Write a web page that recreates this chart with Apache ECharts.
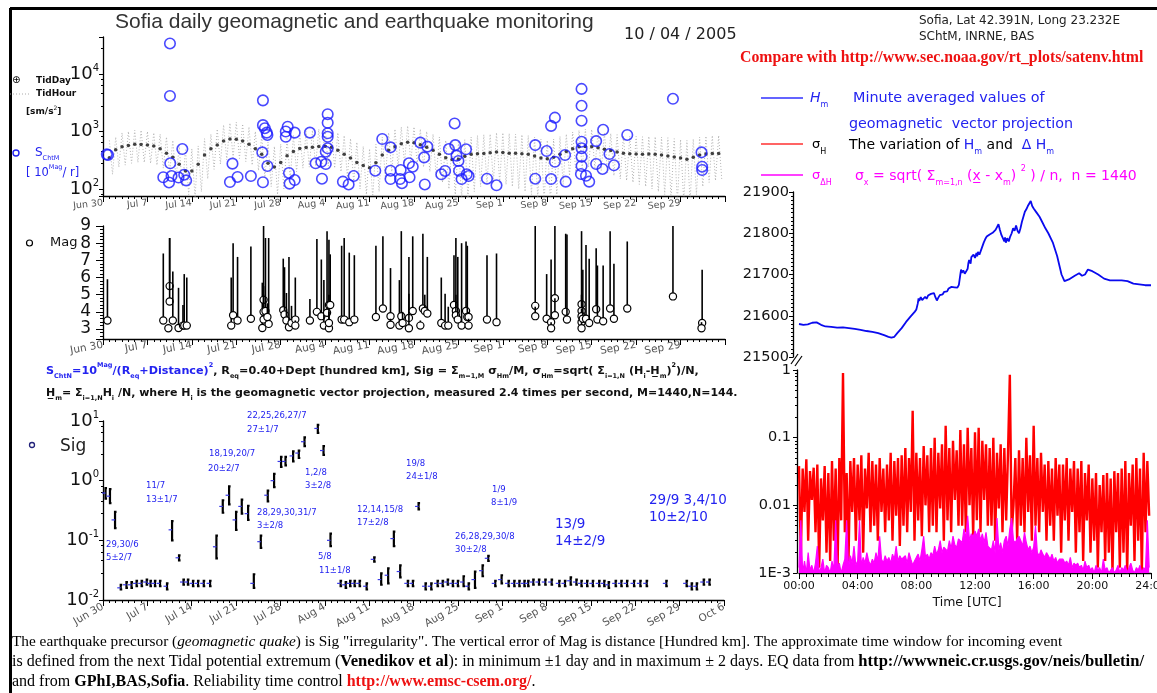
<!DOCTYPE html>
<html><head><meta charset="utf-8">
<script src="https://cdn.jsdelivr.net/npm/echarts@6/dist/echarts.min.js"></script>
<style>html,body{margin:0;padding:0;background:#fff}#c{width:1157px;height:693px}</style>
</head><body><div id="c"></div>
<script>
// ---------- tick labels ----------
const dateLabels = ['Jun 30','Jul 7','Jul 14','Jul 21','Jul 28','Aug 4','Aug 11','Aug 18','Aug 25','Sep 1','Sep 8','Sep 15','Sep 22','Sep 29','Oct 6'];
const timeLabels = ['00:00','04:00','08:00','12:00','16:00','20:00','24:00'];
const sigmaTickLabels = ['1E-3','0.01','0.1','1'];

// ---------- tidal panel (days since Jun 30) ----------
const tdDayVal = [350,480,540,570,600,595,585,560,500,420,
 355,270,205,205,270,390,500,580,680,740,
 730,680,600,500,400,280,240,290,380,450,
 505,525,530,550,555,530,470,400,345,290,
 255,235,285,390,470,540,610,650,640,590,
 530,470,400,350,325,330,370,400,410,415,
 425,440,430,420,420,410,400,375,345,335,
 355,400,450,500,540,550,545,520,490,465,
 440,420,410,405,400,405,400,390,375,360,
 345,330,355,390,405,415,415];
const tdHourHi = [700,800,950,1000,1050,1050,1000,950,900,800,
 700,550,480,500,560,750,900,1100,1300,1400,
 1450,1350,1200,1000,850,650,550,600,750,850,
 950,1000,1050,1100,1100,1050,950,850,750,650,
 550,500,600,800,950,1100,1200,1250,1200,1100,
 1000,900,800,700,650,650,720,800,850,880,
 900,950,950,920,900,880,850,800,740,700,
 740,820,900,980,1050,1100,1080,1020,960,920,
 880,850,830,820,810,820,810,800,780,750,
 720,700,740,800,830,850,850];
const tdHourLo = [180,240,260,280,290,290,280,260,230,190,
 150,110,80,70,90,150,220,270,320,350,
 340,300,260,210,160,110,80,100,150,200,
 230,240,250,250,250,230,200,160,130,100,
 80,70,90,150,200,240,280,290,270,240,
 200,160,130,100,80,70,70,90,110,120,
 130,130,120,110,100,90,80,70,60,60,
 80,120,170,200,230,240,230,210,190,170,
 150,140,130,120,110,100,90,80,70,60,
 60,60,80,110,130,140,140];
const sDay = [0.6,0.8,10.55,10.55,10.6,9.5,10.4,10.8,11.9,12.5,
 12.8,13.1,20.4,20.0,21.2,23.3,25.2,25.2,25.5,25.8,
 25.9,25.1,25.2,25.9,29.1,28.8,28.8,29.3,29.4,30.2,
 30.2,32.6,33.5,34.4,34.5,35.1,35.1,35.4,35.4,35.4,
 35.4,35.4,37.8,38.7,39.5,42.9,44.0,45.3,45.3,45.3,
 46.8,46.9,47.1,48.2,48.8,48.3,50.0,51.1,50.6,50.7,
 53.3,53.9,54.5,55.4,55.5,55.7,56.0,56.1,56.5,57.2,
 57.3,57.6,60.5,62.0,68.1,68.1,69.9,70.6,71.2,71.2,
 70.6,72.9,72.8,75.4,75.4,75.4,75.4,75.4,75.4,75.4,
 75.3,76.1,76.6,77.7,78.8,77.7,78.7,79.8,80.5,82.6,
 89.8,94.3,94.4,94.4];
const sVal = [400,390,34000,4150,280,160,130,168,158,495,
 177,141,276,132,162,168,3480,1290,1140,955,
 870,434,131,251,1210,810,1000,190,124,955,
 143,955,280,297,151,272,445,2000,1420,930,
 810,510,134,120,168,208,740,530,208,149,
 149,214,126,280,244,160,640,545,355,120,
 180,206,495,1380,580,380,307,208,149,490,
 180,168,151,116,580,151,457,1250,1740,297,
 149,134,390,5500,2800,1540,665,510,365,251,
 182,170,134,680,1070,272,223,405,258,870,
 3700,434,244,214];

// ---------- magnitude panel ----------
const magDay = [0.7,9.5,10.5,10.5,10.3,11.0,11.9,12.6,12.8,13.2,
 20.2,20.5,21.2,23.3,25.1,25.3,25.3,25.3,25.6,26.1,
 25.9,28.4,28.6,28.9,29.3,29.7,30.3,30.3,32.6,33.7,
 34.4,34.8,35.3,35.6,35.6,35.6,35.8,37.6,38.0,38.8,
 39.6,43.0,44.1,45.3,45.3,46.7,47.0,47.2,48.2,48.2,
 48.8,50.0,50.4,50.7,51.1,53.3,53.9,54.4,55.3,55.6,
 55.6,55.9,56.5,57.2,57.4,57.6,57.6,60.5,62.0,68.1,
 68.1,69.9,70.6,70.6,71.2,71.2,72.9,73.1,75.4,75.4,
 75.4,75.4,75.4,75.6,76.1,76.6,77.7,77.9,78.8,79.9,
 80.5,82.6,89.8,94.4,94.3];
const magVal = [3.5,3.5,5.5,4.6,3.05,3.5,3.06,3.2,3.2,3.2,
 3.2,3.8,3.5,3.6,3.06,4.7,4.0,3.55,4.05,3.3,
 3.7,4.1,3.85,3.5,3.1,3.35,3.55,3.2,3.5,4.0,
 3.75,3.2,3.95,4.4,3.05,3.35,4.4,3.55,3.55,3.4,
 3.55,3.7,4.2,3.75,3.25,3.2,3.75,3.35,3.65,3.05,
 4.05,3.2,4.2,4.05,3.9,3.35,3.2,3.2,4.4,4.05,
 3.8,3.55,3.2,4.05,3.7,3.7,3.2,3.55,3.4,4.35,
 3.75,3.6,3.4,3.05,4.8,3.8,4.0,3.55,4.45,4.05,
 3.75,3.4,3.05,3.6,3.6,3.35,4.15,3.55,3.45,4.2,
 3.6,4.2,4.9,3.35,3.05];
const magTop = [5.9,7.4,8.3,8.3,3.3,6.35,5.4,4.4,6.2,6.0,
 6.0,8.0,7.2,7.8,5.7,9.0,5.5,5.0,8.3,8.3,
 4.5,7.1,6.6,5.1,7.2,4.35,6.0,3.5,4.75,8.25,
 7.05,5.85,8.7,8.2,4.0,5.0,7.35,7.85,8.3,7.45,
 7.3,7.85,8.4,6.55,3.6,5.85,8.7,4.0,7.2,5.05,
 8.4,3.5,8.55,5.0,7.2,6.0,5.05,4.3,7.3,8.3,
 5.0,7.2,8.0,8.1,7.85,4.0,3.6,7.3,7.4,9.0,
 4.3,6.2,7.05,3.4,9.0,4.8,8.55,8.5,8.7,5.0,
 4.2,3.8,3.5,6.45,7.9,7.1,7.7,6.7,6.7,8.7,
 6.8,8.1,9.0,6.45,3.4];

// ---------- Sig panel ----------
const sigDay = [0.4,1.1,1.9,2.8,3.7,4.5,5.3,6.1,6.9,7.5,
 8.2,9.0,10.1,10.9,12.0,12.7,13.4,14.2,15.0,15.9,
 16.9,17.9,18.9,19.9,21.0,21.9,22.9,23.8,24.9,26.0,
 27.0,28.1,28.8,30.0,30.9,31.8,33.9,34.8,35.9,37.5,
 38.3,39.0,39.7,40.5,41.6,42.8,43.9,45.0,45.9,46.9,
 48.1,48.9,49.8,50.9,51.8,52.8,53.6,54.4,55.2,56.0,
 56.9,57.7,58.7,59.9,60.8,61.9,62.9,64.0,64.9,65.7,
 66.5,67.1,67.9,68.8,69.8,70.8,72.0,72.9,73.8,74.7,
 75.5,76.4,77.3,78.3,79.1,79.8,80.9,81.8,82.7,83.8,
 84.8,85.8,88.9,92.1,92.9,93.7,94.8,95.7];
const sigVal = [0.62,0.55,0.22,0.016,0.018,0.018,0.019,0.019,0.020,0.019,
 0.019,0.019,0.017,0.15,0.051,0.020,0.020,0.019,0.019,0.019,
 0.019,0.078,0.37,0.57,0.22,0.37,0.28,0.019,0.095,0.57,
 1.0,2.1,2.1,2.6,2.9,4.5,7.5,3.2,0.10,0.019,
 0.018,0.019,0.019,0.019,0.017,0.048,0.022,0.026,0.107,0.030,
 0.019,0.019,0.37,0.017,0.017,0.019,0.019,0.020,0.019,0.019,
 0.020,0.017,0.022,0.031,0.050,0.019,0.022,0.019,0.019,0.019,
 0.019,0.019,0.020,0.020,0.020,0.020,0.019,0.019,0.021,0.020,
 0.019,0.019,0.019,0.019,0.019,0.018,0.019,0.019,0.019,0.019,
 0.019,0.019,0.019,0.019,0.017,0.017,0.020,0.020];
const sigLo = [0.50,0.42,0.16,0.015,0.016,0.016,0.017,0.017,0.018,0.017,
 0.017,0.017,0.015,0.10,0.046,0.018,0.018,0.017,0.017,0.017,
 0.017,0.050,0.29,0.40,0.15,0.28,0.22,0.016,0.075,0.45,
 0.78,1.7,1.8,2.1,2.4,3.8,6.3,2.7,0.08,0.017,
 0.016,0.017,0.017,0.017,0.015,0.044,0.018,0.019,0.08,0.024,
 0.017,0.017,0.33,0.015,0.015,0.017,0.017,0.018,0.017,0.017,
 0.017,0.015,0.016,0.025,0.045,0.017,0.019,0.017,0.017,0.017,
 0.017,0.017,0.018,0.018,0.018,0.018,0.017,0.017,0.018,0.018,
 0.017,0.017,0.017,0.017,0.017,0.016,0.017,0.017,0.017,0.017,
 0.017,0.017,0.017,0.017,0.015,0.015,0.018,0.018];
const sigHi = [0.75,0.72,0.30,0.018,0.020,0.020,0.021,0.021,0.022,0.021,
 0.021,0.021,0.019,0.21,0.056,0.022,0.022,0.021,0.021,0.021,
 0.021,0.12,0.47,0.80,0.30,0.48,0.38,0.027,0.12,0.68,
 1.3,2.5,2.5,3.1,3.2,5.3,8.6,3.8,0.13,0.021,
 0.020,0.021,0.021,0.021,0.019,0.052,0.028,0.034,0.14,0.038,
 0.021,0.021,0.42,0.019,0.019,0.021,0.021,0.022,0.021,0.021,
 0.025,0.019,0.030,0.038,0.055,0.021,0.026,0.021,0.021,0.021,
 0.021,0.021,0.022,0.022,0.022,0.022,0.021,0.021,0.024,0.022,
 0.021,0.021,0.021,0.021,0.021,0.020,0.021,0.021,0.021,0.021,
 0.021,0.021,0.021,0.021,0.019,0.019,0.022,0.022];

// ---------- H_m (minute averages, hours UTC) ----------
const hmHour = [0,0.3,0.6,0.9,1.2,1.5,1.8,2.2,2.6,3.0,3.4,3.8,4.2,4.6,5.0,5.4,5.8,6.1,6.3,6.5,6.7,7.0,7.3,7.6,7.9,
 8.0,8.1,8.15,8.2,8.3,8.4,8.5,8.6,8.7,8.8,8.9,9.0,9.1,9.2,9.3,9.4,9.5,9.6,9.7,9.8,9.9,
 10.0,10.1,10.2,10.3,10.4,10.5,10.6,10.7,10.8,10.9,11.0,11.05,11.1,11.2,11.3,11.4,11.5,11.55,11.6,11.7,11.75,11.8,11.9,
 12.0,12.1,12.15,12.2,12.3,12.4,12.5,12.6,12.7,12.8,12.9,13.0,13.1,13.2,13.3,13.4,13.5,13.6,13.7,13.8,13.9,
 14.0,14.05,14.1,14.2,14.3,14.4,14.5,14.6,14.7,14.8,14.9,15.0,15.1,15.2,15.3,15.4,15.5,15.6,15.7,15.8,15.9,
 16.0,16.2,16.4,16.6,16.8,17.0,17.3,17.6,17.9,18.1,18.4,18.8,19.1,19.3,19.5,19.7,20.0,20.4,20.8,21.2,21.6,22.0,22.4,22.8,23.2,23.6,24.0];
const hmVal = [21580,21578,21579,21583,21584,21578,21574,21573,21571,21572,21570,21568,21566,21563,21561,21558,21553,21549,21547,21549,21558,21570,21585,21598,21610,
 21615,21630,21642,21636,21645,21638,21642,21646,21641,21649,21646,21653,21650,21655,21645,21637,21644,21650,21654,21652,21658,
 21661,21659,21666,21664,21670,21673,21669,21672,21668,21675,21700,21712,21704,21710,21702,21708,21714,21728,21735,21726,21742,21738,21748,
 21740,21752,21744,21755,21748,21758,21760,21778,21786,21792,21790,21797,21795,21801,21804,21808,21815,21822,21808,21796,21788,
 21780,21790,21777,21788,21780,21792,21800,21812,21806,21819,21806,21800,21812,21828,21840,21852,21858,21866,21872,21878,21866,
 21860,21850,21840,21826,21812,21800,21778,21745,21700,21684,21688,21697,21703,21697,21700,21712,21708,21700,21690,21686,21686,21686,21684,21678,21676,21674,21674];

// ---------- sigma series, one value every 7.5 min ----------
const sigmaStepH = 0.125;
const sigmaH = [
 0.038,0.0018,0.035,0.008,0.048,0.003,0.032,0.012,
 0.036,0.004,0.04,0.0012,0.025,0.006,0.038,0.002,
 0.03,0.0015,0.045,0.003,0.035,0.001,0.05,0.006,
 0.9,0.004,0.03,0.0015,0.045,0.008,0.05,0.003,
 0.04,0.006,0.055,0.002,0.035,0.009,0.06,0.004,
 0.045,0.005,0.04,0.003,0.05,0.008,0.035,0.004,
 0.04,0.006,0.06,0.003,0.045,0.007,0.05,0.0025,
 0.055,0.005,0.07,0.004,0.05,0.008,0.25,0.003,
 0.06,0.006,0.05,0.0035,0.075,0.01,0.055,0.004,
 0.07,0.005,0.1,0.004,0.06,0.009,0.08,0.003,
 0.15,0.006,0.07,0.004,0.09,0.012,0.065,0.005,
 0.13,0.005,0.08,0.004,0.14,0.01,0.07,0.0035,
 0.12,0.006,0.14,0.004,0.09,0.012,0.08,0.005,
 0.07,0.005,0.1,0.003,0.06,0.009,0.08,0.004,
 0.07,0.006,0.06,0.85,0.004,0.01,0.05,0.003,
 0.065,0.005,0.05,0.004,0.1,0.008,0.055,0.003,
 0.15,0.005,0.05,0.004,0.06,0.008,0.04,0.003,
 0.045,0.005,0.035,0.003,0.05,0.007,0.04,0.002,
 0.04,0.006,0.05,0.003,0.035,0.008,0.045,0.002,
 0.035,0.004,0.045,0.0015,0.03,0.006,0.04,0.002,
 0.025,0.003,0.03,0.0012,0.02,0.004,0.028,0.0015,
 0.03,0.002,0.025,0.001,0.032,0.004,0.03,0.0012,
 0.035,0.002,0.045,0.001,0.03,0.005,0.04,0.0015,
 0.05,0.003,0.035,0.001,0.06,0.004,0.045,0.007];
const sigmaDH = [
 0.0012,0.006,0.001,0.0015,0.001,0.002,0.0011,0.0013,
 0.001,0.0014,0.0025,0.001,0.0012,0.0016,0.001,0.0013,
 0.0012,0.001,0.0015,0.0011,0.006,0.0012,0.0014,0.001,
 0.0013,0.0016,0.006,0.0012,0.0018,0.0014,0.0025,0.0013,
 0.0015,0.006,0.0013,0.0017,0.0014,0.002,0.0015,0.0013,
 0.0016,0.0014,0.002,0.0015,0.0035,0.0016,0.0014,0.0018,
 0.0015,0.0017,0.0014,0.0019,0.0016,0.0025,0.0015,0.0018,
 0.0016,0.0015,0.0018,0.0014,0.002,0.0016,0.0013,0.0015,
 0.0017,0.0019,0.0015,0.0022,0.0035,0.0017,0.0019,0.0016,
 0.002,0.0018,0.0025,0.0019,0.0022,0.003,0.002,0.0024,
 0.0025,0.0021,0.003,0.0023,0.0035,0.0026,0.0024,0.0032,
 0.003,0.0028,0.0045,0.0032,0.007,0.003,0.0038,0.0034,
 0.0042,0.0035,0.0045,0.003,0.0038,0.0028,0.004,0.0025,
 0.0025,0.0022,0.003,0.002,0.0065,0.0022,0.0028,0.002,
 0.003,0.0035,0.0025,0.0045,0.0065,0.003,0.0028,0.0032,
 0.0035,0.003,0.0025,0.004,0.0028,0.0022,0.0025,0.002,
 0.0024,0.005,0.002,0.0018,0.0022,0.0019,0.0017,0.002,
 0.0018,0.0016,0.0019,0.0015,0.0017,0.0014,0.0016,0.0015,
 0.0016,0.0014,0.0015,0.0013,0.0017,0.0012,0.0014,0.0013,
 0.0014,0.0012,0.0013,0.0011,0.0015,0.0012,0.0013,0.0011,
 0.0012,0.001,0.0013,0.0011,0.0012,0.001,0.0016,0.0011,
 0.0012,0.001,0.0011,0.0012,0.001,0.0011,0.0013,0.001,
 0.0012,0.0011,0.0013,0.001,0.0012,0.0014,0.0011,0.001,
 0.0012,0.0011,0.0013,0.001,0.0012,0.0011,0.006,0.0012];

// ---------- fonts / colours ----------
const SANS = '"DejaVu Sans", Verdana, sans-serif';
const ARIAL = '"Liberation Sans", Arial, sans-serif';
const SERIF = '"Liberation Serif", "Times New Roman", serif';
const BLUE = '#2323f0';

function powLabel(v) {
  const e = Math.log10(v), r = Math.round(e);
  if (Math.abs(e - r) > 1e-6) return '';
  return '{b|10}{s|' + r + '}';
}
const powRich = {
  b: {fontSize: 18, color: '#111', fontFamily: SANS, lineHeight: 22},
  s: {fontSize: 10, color: '#111', fontFamily: SANS, verticalAlign: 'top', lineHeight: 10}
};
function dayAxis(gi, rotate, fontSize, margin, showMax) {
  return {type: 'value', gridIndex: gi, min: 0, max: 98, interval: 7,
    axisLine: {show: true, onZero: false, lineStyle: {color: '#000', width: 1.3}},
    axisTick: {show: true, length: 6, lineStyle: {color: '#000'}},
    minorTick: {show: true, splitNumber: 7, length: 3, lineStyle: {color: '#000'}},
    splitLine: {show: false}, minorSplitLine: {show: false},
    axisLabel: {formatter: v => dateLabels[Math.round(v / 7)] || '', rotate, fontSize, color: '#555',
      margin, showMaxLabel: showMax, showMinLabel: true, hideOverlap: false, fontFamily: SANS}
  };
}
const axLine = {show: true, onZero: false, lineStyle: {color: '#000', width: 1.3}};

function txt(x, y, text, st) {
  return {type: 'text', x, y, silent: true,
    style: Object.assign({text, fontFamily: SANS, fontSize: 12, fill: '#000', verticalAlign: 'middle', align: 'left'}, st || {})};
}
function seg(x1, y1, x2, y2, color, w, dash) {
  return {type: 'line', silent: true, shape: {x1, y1, x2, y2}, style: {stroke: color, lineWidth: w || 1.5, lineDash: dash || null}};
}

// ---------- build series data ----------
const tdHourData = [];
tdHourHi.forEach((h, i) => { tdHourData.push([i + 1, h]); tdHourData.push([i + 1.5, tdHourLo[i]]); });
const tdDayData = tdDayVal.map((v, i) => [i + 1, v]);
const sData = sDay.map((d, i) => [d, sVal[i]]);
const magData = magDay.map((d, i) => [d, magVal[i], magTop[i]]);
const sigData = sigDay.map((d, i) => [d, sigVal[i], sigLo[i], sigHi[i]]);
const hmData = hmHour.map((h, i) => [h, hmVal[i]]);
const sigmaHData = sigmaH.map((v, i) => [i * sigmaStepH, v]);
const sigmaDHData = sigmaDH.map((v, i) => [i * sigmaStepH, v]);

// ---------- graphics (legends, titles, notes) ----------
const sub8 = {fontSize: 8, verticalAlign: 'bottom', lineHeight: 8};
const graphics = [
  seg(10, 8.5, 1157, 8.5, '#000', 3),
  seg(10.5, 8, 10.5, 693, '#000', 3),
  txt(115, 22, 'Sofia daily geomagnetic and earthquake monitoring', {fontFamily: ARIAL, fontSize: 21, fill: '#333'}),
  txt(624, 35, '10 / 04 / 2005', {fontFamily: SANS, fontSize: 16, fill: '#222'}),
  txt(919, 21, 'Sofia, Lat 42.391N, Long 23.232E', {fontSize: 12, fill: '#222'}),
  txt(919, 37, 'SChtM, INRNE, BAS', {fontSize: 12, fill: '#222'}),
  txt(740, 58, 'Compare with http://www.sec.noaa.gov/rt_plots/satenv.html', {fontFamily: SERIF, fontWeight: 'bold', fontSize: 15.8, fill: '#ee1111'}),
  // right legend
  seg(761, 98, 803, 98, '#3030ff', 1.3),
  txt(810, 98, '{h|H}{s|m}', {rich: {h: {fontSize: 14, fontStyle: 'italic', fill: BLUE, fontFamily: SANS, lineHeight: 22}, s: Object.assign({fill: BLUE, fontFamily: SANS}, sub8)}}),
  txt(853, 98, 'Minute averaged values of', {fontSize: 14.4, fill: BLUE}),
  txt(849, 124, 'geomagnetic  vector projection', {fontSize: 14.3, fill: BLUE}),
  seg(761, 144, 803, 144, '#ff3030', 1.3),
  txt(812, 145, '{g|σ}{s|H}', {rich: {g: {fontSize: 13, fill: '#000', fontFamily: SANS, lineHeight: 22}, s: Object.assign({fill: '#000', fontFamily: SANS}, sub8)}}),
  txt(849, 145, '{t|The variation of }{h|H}{s|m}{t| and  }{h|Δ H}{s|m}', {rich: {
    t: {fontSize: 14, fill: '#000', fontFamily: SANS, lineHeight: 22},
    h: {fontSize: 14, fill: BLUE, fontFamily: SANS, lineHeight: 22},
    s: Object.assign({fill: BLUE, fontFamily: SANS}, sub8)}}),
  seg(761, 175, 803, 175, '#ff00ff', 1.3),
  txt(812, 176, '{g|σ}{s|ΔH}', {rich: {g: {fontSize: 13, fill: '#ff00ff', fontFamily: SANS, lineHeight: 22}, s: Object.assign({fill: '#ff00ff', fontFamily: SANS}, sub8)}}),
  txt(855, 176, '{t|σ}{s|x}{t| = sqrt( Σ}{s|m=1,n}{t| (x̲ - x}{s|m}{t|) }{p|2}{t| ) / n,  n = 1440}', {rich: {
    t: {fontSize: 14, fill: '#ff00ff', fontFamily: SANS, lineHeight: 22},
    s: Object.assign({fill: '#ff00ff', fontFamily: SANS}, sub8),
    p: {fontSize: 8, fill: '#ff00ff', fontFamily: SANS, verticalAlign: 'top', lineHeight: 8}}}),
  // break mark between right panels
  seg(791, 364, 798, 354, '#000', 1.2),
  seg(795, 366, 802, 356, '#000', 1.2),
  txt(967, 603, 'Time [UTC]', {fontSize: 12.5, fill: '#111', align: 'center'}),
  // left legends
  txt(12, 80, '⊕', {fontSize: 10, fill: '#000'}),
  txt(36, 81, 'TidDay', {fontSize: 9, fontWeight: 'bold', fill: '#111'}),
  seg(10, 94, 31, 94, '#aaa', 1, [1, 2]),
  txt(36, 94, 'TidHour', {fontSize: 9, fontWeight: 'bold', fill: '#111'}),
  txt(26, 112, '{t|[sm/s}{p|2}{t|]}', {rich: {t: {fontSize: 9, fontWeight: 'bold', fill: '#111', fontFamily: SANS, lineHeight: 14}, p: {fontSize: 6, fill: '#111', fontFamily: SANS, verticalAlign: 'top', lineHeight: 6}}}),
  {type: 'circle', silent: true, shape: {cx: 16, cy: 153, r: 3}, style: {fill: 'none', stroke: BLUE, lineWidth: 1.4}},
  txt(35, 153, '{t|S}{s|ChtM}', {rich: {t: {fontSize: 12, fill: BLUE, fontFamily: SANS, lineHeight: 18}, s: {fontSize: 6.5, fill: BLUE, fontFamily: SANS, verticalAlign: 'bottom', lineHeight: 6}}}),
  txt(26, 173, '{t|[ 10}{p|Mag}{t|/ r]}', {rich: {t: {fontSize: 11.5, fill: BLUE, fontFamily: SANS, lineHeight: 18}, p: {fontSize: 6.5, fill: BLUE, fontFamily: SANS, verticalAlign: 'top', lineHeight: 6}}}),
  {type: 'circle', silent: true, shape: {cx: 29.5, cy: 243, r: 3}, style: {fill: '#fff', stroke: '#000', lineWidth: 1.2}},
  txt(50, 243, 'Mag', {fontSize: 13, fill: '#111'}),
  {type: 'circle', silent: true, shape: {cx: 32, cy: 445, r: 2.5}, style: {fill: 'none', stroke: '#22227a', lineWidth: 1.3}},
  txt(60, 447, 'Sig', {fontSize: 17, fill: '#222'}),
  // formula lines
  txt(46, 371, '{bs|S}{bb|ChtN}{bl|=10}{bp|Mag}{bl|/(R}{bb|eq}{bl|+Distance)}{bp|2}{k|, R}{kb|eq}{k|=0.40+Dept [hundred km], Sig = Σ}{kb|m=1,M}{k| σ}{kb|Hm}{k|/M, σ}{kb|Hm}{k|=sqrt( Σ}{kb|i=1,N}{k| (H}{kb|i}{k|-H̲}{kb|m}{k|)}{kp|2}{k|)/N,}', {rich: {
    bs: {fontSize: 11.2, fontWeight: 'bold', fill: BLUE, fontFamily: SANS, lineHeight: 18},
    bl: {fontSize: 11.2, fontWeight: 'bold', fill: BLUE, fontFamily: SANS, lineHeight: 18},
    bb: {fontSize: 6.5, fontWeight: 'bold', fill: BLUE, fontFamily: SANS, verticalAlign: 'bottom', lineHeight: 6},
    bp: {fontSize: 6.5, fontWeight: 'bold', fill: BLUE, fontFamily: SANS, verticalAlign: 'top', lineHeight: 6},
    k: {fontSize: 11.2, fontWeight: 'bold', fill: '#111', fontFamily: SANS, lineHeight: 18},
    kb: {fontSize: 6.5, fontWeight: 'bold', fill: '#111', fontFamily: SANS, verticalAlign: 'bottom', lineHeight: 6},
    kp: {fontSize: 6.5, fontWeight: 'bold', fill: '#111', fontFamily: SANS, verticalAlign: 'top', lineHeight: 6}}}),
  txt(46, 393, '{k|H̲}{kb|m}{k|= Σ}{kb|i=1,N}{k|H}{kb|i}{k| /N, where H}{kb|i}{k| is the geomagnetic vector projection, measured 2.4 times per second, M=1440,N=144.}', {rich: {
    k: {fontSize: 11, fontWeight: 'bold', fill: '#111', fontFamily: SANS, lineHeight: 18},
    kb: {fontSize: 6.5, fontWeight: 'bold', fill: '#111', fontFamily: SANS, verticalAlign: 'bottom', lineHeight: 6}}}),
  // bottom notes
  txt(12, 642, '{t|The earthquake precursor (}{i|geomagnetic quake}{t|) is Sig "irregularity". The vertical error of Mag is distance [Hundred km]. The approximate time window for incoming event}', {rich: {
    t: {fontSize: 15.3, fill: '#000', fontFamily: SERIF}, i: {fontSize: 15.3, fill: '#000', fontFamily: SERIF, fontStyle: 'italic'}}}),
  txt(12, 662, '{t|is defined from the next Tidal potential extremum (}{b|Venedikov et al}{t|): in minimum ±1 day and in maximum ± 2 days. EQ data from }{b|http://wwwneic.cr.usgs.gov/neis/bulletin/}', {rich: {
    t: {fontSize: 16, fill: '#000', fontFamily: SERIF}, b: {fontSize: 16.6, fill: '#000', fontFamily: SERIF, fontWeight: 'bold'}}}),
  txt(12, 682, '{t|and from }{b|GPhI,BAS,Sofia}{t|. Reliability time control }{r|http://www.emsc-csem.org/}{t|.}', {rich: {
    t: {fontSize: 16, fill: '#000', fontFamily: SERIF}, b: {fontSize: 16, fill: '#000', fontFamily: SERIF, fontWeight: 'bold'},
    r: {fontSize: 16, fill: '#ee1111', fontFamily: SERIF, fontWeight: 'bold'}}})
];
// Sig panel annotations
const notesSmall = [
  [106, 545, '29,30/6'], [106, 558, '5±2/7'], [146, 486, '11/7'], [146, 500, '13±1/7'],
  [209, 454, '18,19,20/7'], [208, 469, '20±2/7'], [247, 416, '22,25,26,27/7'], [247, 430, '27±1/7'],
  [305, 473, '1,2/8'], [305, 486, '3±2/8'], [257, 513, '28,29,30,31/7'], [257, 526, '3±2/8'],
  [318, 557, '5/8'], [319, 571, '11±1/8'], [357, 510, '12,14,15/8'], [357, 523, '17±2/8'],
  [406, 464, '19/8'], [406, 477, '24±1/8'], [492, 490, '1/9'], [491, 503, '8±1/9'],
  [455, 537, '26,28,29,30/8'], [455, 550, '30±2/8']
];
notesSmall.forEach(n => graphics.push(txt(n[0], n[1], n[2], {fontSize: 8.5, fill: BLUE})));
[[555, 524, '13/9'], [555, 541, '14±2/9'], [649, 500, '29/9 3,4/10'], [649, 517, '10±2/10']]
  .forEach(n => graphics.push(txt(n[0], n[1], n[2], {fontSize: 13.5, fill: BLUE})));

const chart = echarts.init(document.getElementById('c'), null, {renderer: 'canvas', width: 1157, height: 693});
const option = {
  animation: false,
  backgroundColor: '#ffffff',
  textStyle: {fontFamily: SANS},
  grid: [
    {left: 103, top: 37, width: 622, height: 159, containLabel: false, outerBoundsMode: 'none'},
    {left: 103, top: 226, width: 622, height: 113, containLabel: false, outerBoundsMode: 'none'},
    {left: 103, top: 421, width: 621, height: 179, containLabel: false, outerBoundsMode: 'none'},
    {left: 799, top: 192, width: 352, height: 165, containLabel: false, outerBoundsMode: 'none'},
    {left: 799, top: 370, width: 352, height: 203, containLabel: false, outerBoundsMode: 'none'}
  ],
  xAxis: [
    dayAxis(0, 6, 9.5, 7, false),
    dayAxis(1, 10, 10.5, 6, false),
    dayAxis(2, 30, 10.5, 6, true),
    {type: 'value', gridIndex: 3, min: 0, max: 24, show: false},
    {type: 'value', gridIndex: 4, min: 0, max: 24, interval: 4, axisLine: axLine,
      axisTick: {show: true, length: 6, lineStyle: {color: '#000'}},
      minorTick: {show: true, splitNumber: 8, length: 4, lineStyle: {color: '#000'}},
      splitLine: {show: false},
      axisLabel: {formatter: v => timeLabels[Math.round(v / 4)], fontSize: 11, color: '#111', margin: 8, fontFamily: SANS, hideOverlap: false}}
  ],
  yAxis: [
    {type: 'log', gridIndex: 0, min: 75.5, max: 44000, axisLine: axLine,
      axisTick: {show: true, length: 4, lineStyle: {color: '#000'}}, minorTick: {show: true, splitNumber: 5, length: 2, lineStyle: {color: '#000'}},
      splitLine: {show: false}, axisLabel: {formatter: powLabel, margin: 4, rich: powRich, hideOverlap: false}},
    {type: 'value', gridIndex: 1, min: 2.42, max: 9, minInterval: 1, maxInterval: 1, axisLine: axLine,
      axisTick: {show: true, length: 7, lineStyle: {color: '#000'}}, minorTick: {show: true, splitNumber: 5, length: 3, lineStyle: {color: '#000'}},
      splitLine: {show: false},
      axisLabel: {formatter: v => Math.abs(v - Math.round(v)) < 1e-6 ? String(Math.round(v)) : '', fontSize: 17, color: '#111', margin: 12, fontFamily: SANS, hideOverlap: false}},
    {type: 'log', gridIndex: 2, min: 0.01, max: 10, axisLine: axLine,
      axisTick: {show: true, length: 4, lineStyle: {color: '#000'}}, minorTick: {show: true, splitNumber: 5, length: 2, lineStyle: {color: '#000'}},
      splitLine: {show: false}, axisLabel: {formatter: powLabel, margin: 4, rich: powRich, hideOverlap: false}},
    {type: 'value', gridIndex: 3, min: 21500, max: 21900, interval: 100, offset: 6, axisLine: axLine,
      axisTick: {show: true, length: 4, lineStyle: {color: '#000'}}, minorTick: {show: true, splitNumber: 10, length: 2, lineStyle: {color: '#000'}},
      splitLine: {show: false},
      axisLabel: {formatter: v => String(v), fontSize: 14.5, color: '#111', margin: 4, fontFamily: SANS, hideOverlap: false}},
    {type: 'log', gridIndex: 4, min: 0.001, max: 1, offset: 2, axisLine: axLine,
      axisTick: {show: true, length: 4, lineStyle: {color: '#000'}}, minorTick: {show: true, splitNumber: 9, length: 2, lineStyle: {color: '#000'}},
      splitLine: {show: false},
      axisLabel: {formatter: v => { const e = Math.log10(v), r = Math.round(e); return Math.abs(e - r) < 1e-6 ? sigmaTickLabels[r + 3] : ''; },
        fontSize: 14.5, color: '#111', margin: 6, fontFamily: SANS, hideOverlap: false}}
  ],
  series: [
    {type: 'line', name: 'TidHour', xAxisIndex: 0, yAxisIndex: 0, data: tdHourData, showSymbol: false, clip: true,
      lineStyle: {color: '#b4b4b4', width: 1, type: [1, 2]}, z: 1},
    {type: 'scatter', name: 'TidDay', xAxisIndex: 0, yAxisIndex: 0, data: tdDayData, symbol: 'circle', symbolSize: 3.5,
      itemStyle: {color: '#111'}, z: 2},
    {type: 'scatter', name: 'S', xAxisIndex: 0, yAxisIndex: 0, data: sData, symbol: 'circle', symbolSize: 10.5,
      itemStyle: {color: 'rgba(0,0,0,0)', borderColor: '#1c1cff', borderWidth: 1.6}, z: 3},
    {type: 'custom', name: 'Mag', xAxisIndex: 1, yAxisIndex: 1, data: magData, encode: {x: 0, y: [1, 2]},
      renderItem: (params, api) => {
        const p0 = api.coord([api.value(0), api.value(1)]);
        const p1 = api.coord([api.value(0), api.value(2)]);
        return {type: 'group', children: [
          {type: 'line', shape: {x1: p0[0], y1: p0[1], x2: p1[0], y2: p1[1]}, style: {stroke: '#000', lineWidth: 1.6}},
          {type: 'circle', shape: {cx: p0[0], cy: p0[1], r: 3.6}, style: {fill: '#fff', stroke: '#000', lineWidth: 1.2}}
        ]};
      }},
    {type: 'custom', name: 'Sig', xAxisIndex: 2, yAxisIndex: 2, data: sigData, encode: {x: 0, y: [1, 2, 3]},
      renderItem: (params, api) => {
        const pv = api.coord([api.value(0), api.value(1)]);
        const pl = api.coord([api.value(0), api.value(2)]);
        const ph = api.coord([api.value(0), api.value(3)]);
        const cx = pv[0];
        return {type: 'group', children: [
          {type: 'polyline', shape: {points: [[cx + 1.5, ph[1]], [cx, ph[1]], [cx, pl[1]], [cx + 1.5, pl[1]]]}, style: {stroke: '#000', lineWidth: 2.2, fill: null}},
          {type: 'line', shape: {x1: cx - 3.5, y1: pv[1], x2: cx, y2: pv[1]}, style: {stroke: '#3a3ae8', lineWidth: 1.2}}
        ]};
      }},
    {type: 'line', name: 'Hm', xAxisIndex: 3, yAxisIndex: 3, data: hmData, showSymbol: false,
      lineStyle: {color: '#0a0aee', width: 1.8}},
    {type: 'line', name: 'sigmaH', xAxisIndex: 4, yAxisIndex: 4, data: sigmaHData, showSymbol: false, clip: true,
      lineStyle: {color: '#ff0000', width: 2.4}, z: 2},
    {type: 'line', name: 'sigmaDH', xAxisIndex: 4, yAxisIndex: 4, data: sigmaDHData, showSymbol: false, clip: true,
      lineStyle: {color: '#ff00ff', width: 1.2}, areaStyle: {color: '#ff00ff', opacity: 1, origin: 'start'}, z: 3}
  ],
  graphic: graphics
};
chart.setOption(option);
</script></body></html>
